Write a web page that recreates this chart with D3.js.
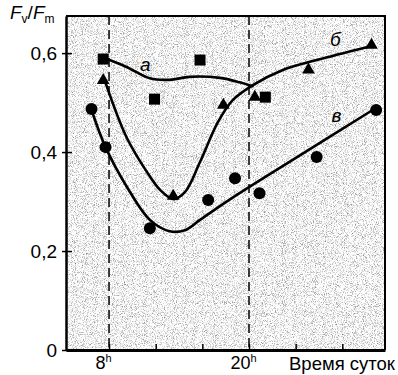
<!DOCTYPE html>
<html>
<head>
<meta charset="utf-8">
<script src="https://cdn.jsdelivr.net/npm/d3@7"></script>
<style>
  body { margin: 0; background: #fff; }
  text { font-family: "Liberation Sans", Arial, sans-serif; fill: #000; }
</style>
</head>
<body>
<div id="container"></div>
<script>
// measured points (hours of day, Fv/Fm)
const sqHour  = [7.5, 11.9, 15.8, 21.4];
const sqVal   = [0.588, 0.507, 0.586, 0.511];
const triHour = [7.5, 13.5, 17.8, 20.5, 25.1, 30.5];
const triVal  = [0.545, 0.311, 0.495, 0.511, 0.566, 0.616];
const dotHour = [6.5, 7.7, 11.5, 16.5, 18.8, 20.9, 25.8, 30.9];
const dotVal  = [0.487, 0.410, 0.246, 0.303, 0.347, 0.317, 0.390, 0.485];

// hand drawn fit curves
const fitAHour = [7.6, 9.5, 11.5, 13.2, 14.9, 17.5, 19.2, 20.3];
const fitAVal  = [0.590, 0.572, 0.549, 0.546, 0.552, 0.550, 0.541, 0.533];
const fitBHour = [7.6, 9.5, 11.3, 12.4, 13.5, 14.5, 15.8, 17.3, 18.6, 20.3, 22.9, 25.8, 30.1];
const fitBVal  = [0.547, 0.430, 0.358, 0.323, 0.305, 0.319, 0.380, 0.459, 0.505, 0.535, 0.566, 0.586, 0.612];
const fitCHour = [6.5, 7.7, 9.6, 11.5, 13.2, 14.5, 15.8, 18.4, 24.4, 30.6];
const fitCVal  = [0.485, 0.410, 0.327, 0.263, 0.240, 0.242, 0.263, 0.305, 0.394, 0.485];

const xTicks = [8, 12, 16, 20, 24, 28];
const xLabeled = [8, 20];
const markHours = [8, 20];
const yTicks = [0, 0.2, 0.4, 0.6];
const curveNames = ["а", "б", "в"];
const curveNamePos = [[11.1, 0.576], [27.4, 0.626], [27.5, 0.473]];

const width = 398, height = 375;
const x = d3.scaleLinear().domain([4.31, 31.66]).range([66, 385]);
const y = d3.scaleLinear().domain([0, 0.675]).range([350, 16]);

const svg = d3.select("#container").append("svg")
    .attr("width", width)
    .attr("height", height);

const defs = svg.append("defs");
const f = defs.append("filter").attr("id", "grain")
    .attr("x", 0).attr("y", 0).attr("width", "100%").attr("height", "100%")
    .attr("color-interpolation-filters", "sRGB");
f.append("feTurbulence")
    .attr("type", "fractalNoise")
    .attr("baseFrequency", 1.1)
    .attr("numOctaves", 2)
    .attr("seed", 4)
    .attr("result", "t");
f.append("feColorMatrix")
    .attr("in", "t")
    .attr("type", "matrix")
    .attr("values", "1.2 0 0 0 0.36  1.2 0 0 0 0.36  1.2 0 0 0 0.36  0 0 0 0 1");

svg.append("rect")
    .attr("x", x.range()[0]).attr("y", y.range()[1])
    .attr("width", x.range()[1] - x.range()[0])
    .attr("height", y.range()[0] - y.range()[1])
    .attr("filter", "url(#grain)");

// frame top / right
svg.append("path")
    .attr("d", `M${x.range()[0]},${y.range()[1]}H${x.range()[1]}V${y.range()[0]}`)
    .attr("fill", "none").attr("stroke", "#000").attr("stroke-width", 2);

// dashed markers at 8h and 20h
svg.append("g").selectAll("line")
  .data(markHours)
  .join("line")
    .attr("x1", d => x(d)).attr("x2", d => x(d))
    .attr("y1", y.range()[1]).attr("y2", y.range()[0])
    .attr("stroke", "#000").attr("stroke-width", 1.5)
    .attr("stroke-dasharray", "9,5");

// axes
const xAxis = svg.append("g")
    .attr("transform", `translate(0,${y(0)})`)
    .call(d3.axisBottom(x).tickValues(xTicks).tickSizeInner(-6).tickSizeOuter(0).tickPadding(6)
      .tickFormat(d => xLabeled.includes(d) ? d : ""));
xAxis.select(".domain").attr("stroke-width", 3);
xAxis.selectAll(".tick line").attr("stroke-width", 1.5);
xAxis.selectAll(".tick text")
    .attr("font-size", 18)
    .attr("font-family", null)
    .attr("dx", -6)
    .each(function(d) {
      if (!xLabeled.includes(d)) return;
      const t = d3.select(this).text("");
      t.append("tspan").text(d);
      t.append("tspan").attr("font-size", 11).attr("dy", -7).text("h");
    });

svg.append("text")
    .attr("x", 289).attr("y", 370)
    .attr("font-size", 18.5)
    .text("Время суток");

const yAxis = svg.append("g")
    .attr("transform", `translate(${x.range()[0]},0)`)
    .call(d3.axisLeft(y).tickValues(yTicks).tickSizeInner(-6).tickSizeOuter(0).tickPadding(9)
      .tickFormat(d => d === 0 ? "0" : d3.format(".1f")(d).replace(".", ",")));
yAxis.select(".domain").attr("stroke-width", 2.5);
yAxis.selectAll(".tick line").attr("stroke-width", 1.5).attr("x1", -4);
yAxis.selectAll(".tick text").attr("font-size", 19).attr("font-family", null);

// axis title Fv/Fm
const yt = svg.append("text").attr("x", 10).attr("y", 19).attr("font-size", 19);
yt.append("tspan").attr("font-style", "italic").text("F");
yt.append("tspan").attr("font-size", 12).attr("dy", 4).text("v");
yt.append("tspan").attr("dy", -4).text("/");
yt.append("tspan").attr("font-style", "italic").text("F");
yt.append("tspan").attr("font-size", 12).attr("dy", 4).text("m");

// curves
const line = d3.line()
    .x(d => x(d[0])).y(d => y(d[1]))
    .curve(d3.curveCatmullRom.alpha(0.5));
const fits = [
  d3.zip(fitAHour, fitAVal),
  d3.zip(fitBHour, fitBVal),
  d3.zip(fitCHour, fitCVal)
];
svg.append("g")
    .attr("fill", "none").attr("stroke", "#000").attr("stroke-width", 2.6)
    .attr("stroke-linecap", "round")
  .selectAll("path")
  .data(fits)
  .join("path")
    .attr("d", line);

// markers
svg.append("g").selectAll("rect")
  .data(d3.zip(sqHour, sqVal))
  .join("rect")
    .attr("x", d => x(d[0]) - 5.5).attr("y", d => y(d[1]) - 5.5)
    .attr("width", 11).attr("height", 11)
    .attr("fill", "#000");

const tri = d3.symbol().type(d3.symbolTriangle).size(70);
svg.append("g").selectAll("path")
  .data(d3.zip(triHour, triVal))
  .join("path")
    .attr("transform", d => `translate(${x(d[0])},${y(d[1])})`)
    .attr("d", tri)
    .attr("fill", "#000");

svg.append("g").selectAll("circle")
  .data(d3.zip(dotHour, dotVal))
  .join("circle")
    .attr("cx", d => x(d[0])).attr("cy", d => y(d[1]))
    .attr("r", 6)
    .attr("fill", "#000");

// curve names
svg.append("g").selectAll("text")
  .data(curveNames)
  .join("text")
    .attr("x", (d, i) => x(curveNamePos[i][0]))
    .attr("y", (d, i) => y(curveNamePos[i][1]) + 6)
    .attr("text-anchor", "middle")
    .attr("font-size", 19)
    .attr("font-style", "italic")
    .text(d => d);
</script>
</body>
</html>
